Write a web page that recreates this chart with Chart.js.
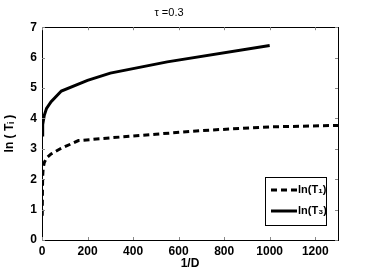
<!DOCTYPE html>
<html><head><meta charset="utf-8">
<script src="https://cdn.jsdelivr.net/npm/chart.js@4"></script>
<style>html,body{margin:0;padding:0;background:#fff}#wrap{width:382px;height:273px}</style>
</head><body><div id="wrap"><canvas id="c" width="382" height="273"></canvas></div>
<script>
const titleText = "τ =0.3";
const xTitle = "1/D";
const yTitle = "ln ( Tᵢ )";
const xTicks = [0, 200, 400, 600, 800, 1000, 1200];
const yTicks = [0, 1, 2, 3, 4, 5, 6, 7];
const t1Label = "ln(T₁)";
const t1X = [1, 2, 3, 5, 10, 20, 40, 80, 160, 300, 500, 700, 1000, 1300];
const t1Y = [0.8, 1.6, 2.1, 2.35, 2.55, 2.7, 2.83, 3.0, 3.27, 3.36, 3.48, 3.6, 3.72, 3.77];
const t3Label = "ln(T₃)";
const t3X = [1, 3, 10, 20, 40, 85, 200, 300, 550, 1000];
const t3Y = [3.45, 3.8, 4.1, 4.33, 4.55, 4.9, 5.25, 5.49, 5.86, 6.4];

const FONT = "'Liberation Sans', Arial, sans-serif";

const framePlugin = {
  id: 'frame',
  afterDraw(chart) {
    const ctx = chart.ctx, a = chart.chartArea;
    const xs = chart.scales.x, ys = chart.scales.y;
    ctx.save();
    ctx.strokeStyle = '#000'; ctx.lineWidth = 1;
    ctx.strokeRect(Math.round(a.left) + 0.5, Math.round(a.top) + 0.5, Math.round(a.right - a.left), Math.round(a.bottom - a.top));
    ctx.strokeStyle = '#888';
    xTicks.forEach(v => {
      const px = Math.round(xs.getPixelForValue(v)) + 0.5;
      ctx.beginPath(); ctx.moveTo(px, a.bottom); ctx.lineTo(px, a.bottom - 3);
      ctx.moveTo(px, a.top); ctx.lineTo(px, a.top + 3); ctx.stroke();
    });
    yTicks.forEach(v => {
      const py = Math.round(ys.getPixelForValue(v)) + 0.5;
      ctx.beginPath(); ctx.moveTo(a.left, py); ctx.lineTo(a.left + 3, py);
      ctx.moveTo(a.right, py); ctx.lineTo(a.right - 3, py); ctx.stroke();
    });
    // legend
    const lx = 265, ly = 177, lw = 61, lh = 48;
    ctx.fillStyle = '#fff';
    ctx.fillRect(lx, ly, lw, lh);
    ctx.strokeStyle = '#000'; ctx.lineWidth = 1;
    ctx.strokeRect(lx + 0.5, ly + 0.5, lw, lh);
    chart.data.datasets.forEach((ds, i) => {
      const y = ly + 13 + i * 21;
      ctx.beginPath();
      ctx.setLineDash(ds.borderDash || []);
      ctx.lineWidth = ds.borderWidth;
      ctx.strokeStyle = ds.borderColor;
      ctx.moveTo(lx + 6, y); ctx.lineTo(lx + 32, y); ctx.stroke();
      ctx.setLineDash([]);
      ctx.fillStyle = '#000';
      ctx.font = "bold 11px " + FONT;
      ctx.textBaseline = 'middle';
      ctx.textAlign = 'left';
      ctx.fillText(ds.label, lx + 33, y);
    });
    ctx.restore();
  }
};

new Chart(document.getElementById('c'), {
  type: 'line',
  data: {
    datasets: [
      { label: t1Label, data: t1X.map((x, i) => ({x, y: t1Y[i]})), borderColor: '#000', borderWidth: 3, borderDash: [6, 4], pointRadius: 0, fill: false, tension: 0 },
      { label: t3Label, data: t3X.map((x, i) => ({x, y: t3Y[i]})), borderColor: '#000', borderWidth: 3, pointRadius: 0, fill: false, tension: 0 }
    ]
  },
  options: {
    responsive: false,
    animation: false,
    devicePixelRatio: 1,
    layout: { padding: { left: 0, right: 44, top: 0, bottom: 0 } },
    plugins: {
      legend: { display: false },
      tooltip: { enabled: false },
      title: { display: true, text: titleText, color: '#000', font: { family: FONT, size: 11, weight: 'normal' }, padding: { top: 6, bottom: 8 } }
    },
    scales: {
      x: {
        type: 'linear', min: 0, max: 1300,
        afterBuildTicks: s => { s.ticks = xTicks.map(v => ({value: v})); },
        afterFit: s => { s.height = 33; },
        grid: { display: false, drawTicks: false },
        border: { display: false },
        ticks: { color: '#000', padding: 4, maxRotation: 0, callback: v => String(v), font: { family: FONT, size: 12, weight: 'bold' } },
        title: { display: true, text: xTitle, color: '#000', padding: { top: 0, bottom: 2 }, font: { family: FONT, size: 12, weight: 'bold' } }
      },
      y: {
        type: 'linear', min: 0, max: 7,
        afterBuildTicks: s => { s.ticks = yTicks.map(v => ({value: v})); },
        afterFit: s => { s.width = 42; },
        grid: { display: false, drawTicks: false },
        border: { display: false },
        ticks: { color: '#000', padding: 5, callback: v => String(v), font: { family: FONT, size: 12, weight: 'bold' } },
        title: { display: true, text: yTitle, color: '#000', padding: { top: 2, bottom: 0 }, font: { family: FONT, size: 12, weight: 'bold' } }
      }
    }
  },
  plugins: [framePlugin]
});
</script>
</body></html>
